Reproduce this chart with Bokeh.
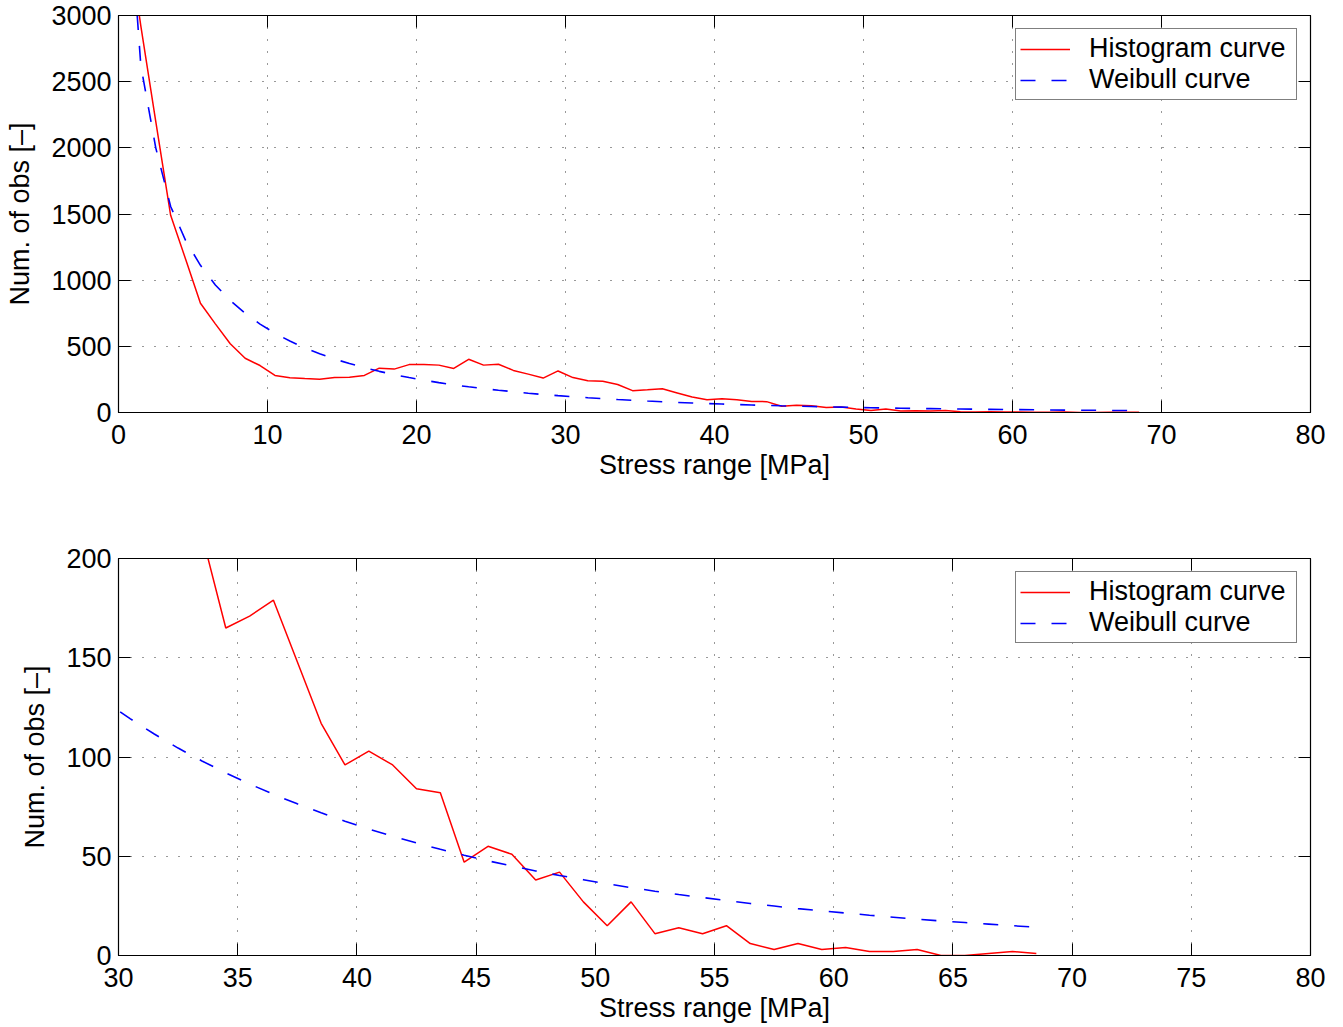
from bokeh.plotting import figure
from bokeh.models import Range1d, LinearAxis, FixedTicker, CustomLabelingPolicy
from bokeh.layouts import column
from bokeh.embed import file_html
from bokeh.resources import INLINE

# ---- data ----
stress_mpa = [0.5, 1.5, 2.5, 3.5, 4.5, 5.5, 6.5, 7.5, 8.5, 9.5,
              10.5, 11.5, 12.5, 13.5, 14.5, 15.5, 16.5, 17.5, 18.5, 19.5,
              20.5, 21.5, 22.5, 23.5, 24.5, 25.5, 26.5, 27.5, 28.5, 29.5,
              30.5, 31.5, 32.5, 33.5, 34.5, 35.5, 36.5, 37.5, 38.5, 39.5,
              40.5, 41.5, 42.5, 43.5, 44.5, 45.5, 46.5, 47.5, 48.5, 49.5,
              50.5, 51.5, 52.5, 53.5, 54.5, 55.5, 56.5, 57.5, 58.5, 59.5,
              60.5, 61.5, 62.5, 63.5, 64.5, 65.5, 66.5, 67.5, 68.5]

hist_counts = [3700, 2920, 2200, 1490, 1160, 826, 670, 519, 410, 355,
               280, 262, 256, 252, 265, 267, 280, 335, 328, 362,
               362, 358, 333, 402, 358, 365, 318, 290, 260, 314,
               264, 240, 236, 212, 165, 171, 179, 148, 117, 96,
               103, 96, 84, 82, 47, 55, 51, 38, 42, 27,
               15, 27, 11, 14, 11, 15, 6, 3, 6, 3,
               4, 2, 2, 3, 0, 0, 1, 2, 1]

weibull_counts = [4172, 2620, 2000, 1557, 1301, 1112, 964, 846, 749, 668,
                  599, 540, 488, 444, 404, 370, 339, 311, 286, 264,
                  244, 226, 209, 194, 181, 168, 157, 146, 136, 127.4,
                  119.2, 111.6, 104.5, 98.0, 92.0, 86.4, 81.2, 76.4, 71.9, 67.6,
                  63.7, 60.1, 56.7, 53.5, 50.5, 47.7, 45.1, 42.6, 40.3, 38.2,
                  36.1, 34.2, 32.4, 30.7, 29.2, 27.7, 26.2, 24.9, 23.6, 22.5,
                  21.4, 20.3, 19.3, 18.3, 17.4, 16.6, 15.8, 15.0, 14.3]

top_xticks = [0, 10, 20, 30, 40, 50, 60, 70, 80]
top_yticks = [0, 500, 1000, 1500, 2000, 2500, 3000]
bot_xticks = [30, 35, 40, 45, 50, 55, 60, 65, 70, 75, 80]
bot_yticks = [0, 50, 100, 150, 200]

FONT = "Liberation Sans"
FS = "27px"


def mirror_axis(ticks):
    # tick marks only (box on): no labels drawn at all
    return LinearAxis(ticker=FixedTicker(ticks=ticks), major_tick_in=12, major_tick_out=0,
                      minor_tick_line_color=None, major_label_standoff=0,
                      major_label_text_font_size="1px",
                      major_label_policy=CustomLabelingPolicy(code="return []"),
                      axis_line_color="black", major_tick_line_color="black")


def make_fig(xr, yr, xticks, yticks, height, top_b, bot_b):
    p = figure(width=1343, height=height,
               x_range=Range1d(*xr), y_range=Range1d(*yr),
               output_backend="svg", toolbar_location=None,
               min_border_left=118, min_border_right=33,
               min_border_top=top_b, min_border_bottom=bot_b,
               background_fill_color="white", border_fill_color="white")
    p.outline_line_color = "black"
    p.outline_line_width = 1.2

    for ax in (p.xaxis[0], p.yaxis[0]):
        ax.major_tick_in = 12
        ax.major_tick_out = 0
        ax.minor_tick_line_color = None
        ax.axis_line_color = "black"
        ax.major_tick_line_color = "black"
        ax.major_label_text_font = FONT
        ax.major_label_text_font_size = FS
        ax.major_label_text_color = "black"
        ax.axis_label_text_font = FONT
        ax.axis_label_text_font_size = FS
        ax.axis_label_text_font_style = "normal"
        ax.axis_label_text_color = "black"
    p.xaxis[0].ticker = FixedTicker(ticks=xticks)
    p.yaxis[0].ticker = FixedTicker(ticks=yticks)
    p.xaxis[0].axis_label = "Stress range [MPa]"
    p.yaxis[0].axis_label = "Num. of obs [–]"
    p.xaxis[0].major_label_standoff = 12
    p.xaxis[0].axis_label_standoff = 3
    p.yaxis[0].major_label_standoff = 7
    p.yaxis[0].axis_label_standoff = 13

    p.add_layout(mirror_axis(xticks), "above")
    p.add_layout(mirror_axis(yticks), "right")

    for g in (p.xgrid[0], p.ygrid[0]):
        g.grid_line_color = "#333333"
        g.grid_line_dash = "1 11"
        g.grid_line_width = 1
    p.xgrid[0].ticker = FixedTicker(ticks=xticks)
    p.ygrid[0].ticker = FixedTicker(ticks=yticks)

    p.line(stress_mpa, hist_counts, line_color="#ff0000", line_width=1.5,
           legend_label="Histogram curve")
    p.line(stress_mpa, weibull_counts, line_color="#0000ff", line_width=1.6,
           line_dash="15 16", legend_label="Weibull curve")

    lg = p.legend[0]
    lg.location = "top_right"
    lg.margin = 13
    lg.padding = 4
    lg.spacing = 0
    lg.glyph_width = 50
    lg.label_standoff = 19
    lg.label_width = 203
    lg.label_text_font = FONT
    lg.label_text_font_size = FS
    lg.label_text_color = "black"
    lg.label_height = 28
    lg.border_line_color = "black"
    lg.border_line_width = 1.2
    lg.background_fill_color = "white"
    lg.background_fill_alpha = 1.0
    return p


p1 = make_fig((0, 80), (0, 3000), top_xticks, top_yticks, 500, 15, 88)
p2 = make_fig((30, 80), (0, 200), bot_xticks, bot_yticks, 527, 58, 72)

layout = column(p1, p2, spacing=0)
open("out.html", "w").write(file_html(layout, INLINE))
